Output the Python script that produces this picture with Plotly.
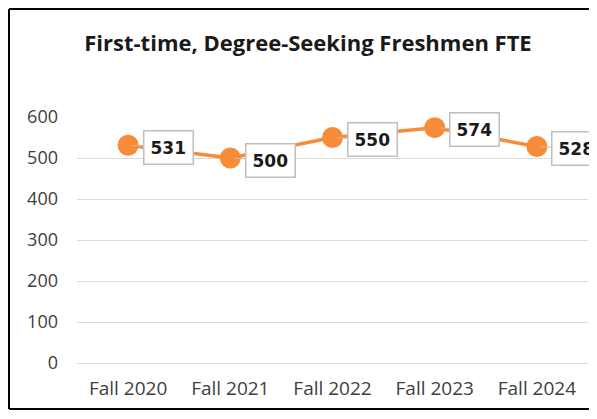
import plotly.graph_objects as go

categories = ["Fall 2020", "Fall 2021", "Fall 2022", "Fall 2023", "Fall 2024"]
fte_values = [531, 500, 550, 574, 528]
y_ticks = [0, 100, 200, 300, 400, 500, 600]

# page has an 8px body margin on every side; keep the figure inside the window
OFF = 8
W, H = 597 - OFF, 419 - 2 * OFF
L, T = 77 - OFF, 117 - OFF
R = W - (588 - OFF)
B = H - (363 - OFF)
pw = W - L - R
ph = H - T - B

orange = "#F78B38"

fig = go.Figure()
fig.add_trace(go.Scatter(
    x=categories, y=fte_values, mode="lines+markers",
    line=dict(color=orange, width=3.5),
    marker=dict(color=orange, size=21),
    cliponaxis=False, hoverinfo="skip", showlegend=False,
))

for c, v in zip(categories, fte_values):
    fig.add_annotation(
        x=c, y=v, xref="x", yref="y", text=f"<b>{v}</b>",
        showarrow=True, arrowhead=0, arrowwidth=1, arrowcolor="#BFBFBF",
        ax=40, ay=2, standoff=4,
        bgcolor="white", bordercolor="#BFBFBF", borderwidth=1.5, borderpad=6,
        font=dict(family="DejaVu Sans", size=17, color="#1a1a1a"),
    )

# outer frame: left, top and bottom edges (right edge lies outside the window)
fx0 = ((9 - OFF) - L) / pw
fx1 = (W + 20 - L) / pw
fy0 = ((H - B) - (H - 2)) / ph
fy1 = ((H - B) - 1) / ph
frame = dict(color="black", width=2)
fig.add_shape(type="line", xref="paper", yref="paper", x0=fx0, x1=fx0, y0=fy0, y1=fy1, line=frame)
fig.add_shape(type="line", xref="paper", yref="paper", x0=fx0, x1=fx1, y0=fy1, y1=fy1, line=frame)
fig.add_shape(type="line", xref="paper", yref="paper", x0=fx0, x1=fx1, y0=fy0, y1=fy0, line=frame)

fig.update_layout(
    width=W, height=H,
    margin=dict(l=L, r=R, t=T, b=B),
    paper_bgcolor="white", plot_bgcolor="white",
    title=dict(text="<b>First-time, Degree-Seeking Freshmen FTE</b>",
               x=(308 - OFF) / W, xanchor="center", y=1 - (43 - OFF) / H, yanchor="middle",
               font=dict(family="Open Sans", size=22, color="#1a1a1a")),
    xaxis=dict(showgrid=False, showline=False, zeroline=False, ticks="",
               ticklabelstandoff=12,
               tickfont=dict(family="Open Sans", size=19, color="#404040"),
               range=[-0.5, 4.5], fixedrange=True),
    yaxis=dict(range=[0, 600], tickvals=y_ticks, showgrid=True,
               gridcolor="#D9D9D9", gridwidth=1, zeroline=True,
               zerolinecolor="#D9D9D9", zerolinewidth=1, showline=False,
               ticks="", ticklabelstandoff=18,
               tickfont=dict(family="Open Sans", size=18, color="#404040")),
)

fig.write_html("out.html")
